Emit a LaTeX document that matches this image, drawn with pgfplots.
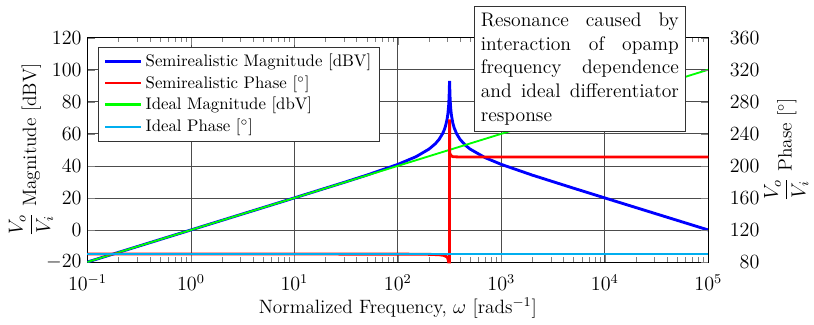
\documentclass[border=0pt]{standalone}
\usepackage{pgfplots}
\pgfplotsset{compat=1.18}
\definecolor{idealphase}{RGB}{0,174,239}
\pgfplotsset{every axis/.append style={
  tick label style={font=\fontsize{11.5}{14}\selectfont},
  label style={font=\fontsize{11.5}{14}\selectfont}}}
\begin{document}
\begin{tikzpicture}
\begin{axis}[
  scale only axis, width=370pt, height=133.7pt,
  xmode=log, xmin=0.1, xmax=1e5,
  ymin=-20, ymax=120, ytick={-20,0,...,120},
  xtick={0.1,1,10,100,1000,10000,100000},
  ytick pos=left,
  grid=major, grid style={black!70, thin},
  xlabel={Normalized Frequency, $\omega$ [rads$^{-1}$]},
  ylabel={$\displaystyle\frac{V_o}{V_i}$ Magnitude [dBV]},
  ylabel style={yshift=-11pt},
  xticklabel style={yshift=-4pt},
  xlabel style={yshift=2.5pt},
]
\addplot[blue, line width=1.7pt] coordinates {
(0.1,-20) (1,0) (10,20.01) (30,29.62) (50,34.20) (100,40.92) (150,45.73)
(200,50.46) (230,53.77) (250,56.48) (270,59.97) (280,62.25) (290,65.22)
(300,69.54) (305,72.81) (310,77.87) (313,83.27) (315,89.53) (316.23,93.0)
(317.5,89.38) (319,84.5) (322,78.68) (326,74.32) (330,71.4) (340,66.77)
(350,63.84) (370,60.02) (400,56.48) (450,52.85) (500,50.46) (700,45.08)
(1000,40.92) (2000,34.2) (5000,26.06) (10000,20.0) (100000,0)
};
\addplot[green, line width=1.1pt] coordinates {(0.1,-20) (100000,100)};
\end{axis}
\begin{axis}[
  scale only axis, width=370pt, height=133.7pt,
  xmode=log, xmin=0.1, xmax=1e5,
  axis x line=none,
  axis y line*=right,
  ymin=80, ymax=360, ytick={80,120,...,360},
  yticklabel style={anchor=east, xshift=34pt},
  ylabel={$\displaystyle\frac{V_o}{V_i}$ Phase [$^\circ$]},
  ylabel style={yshift=4pt},
  clip=false,
  legend style={at={(0.0176,0.96)}, anchor=north west, draw=black!80, fill=white,
    legend cell align=left},
  legend image code/.code={\draw[#1] (0cm,0cm) -- (0.75cm,0cm);},
]
\addlegendimage{blue, line width=1.7pt}
\addlegendentry{Semirealistic Magnitude [dBV]}
\addplot[red, line width=1.7pt] coordinates {
(0.1,90) (100,89.9) (200,89.6) (250,89.1) (280,88.2) (300,86.2) (305,84)
(310,80) (316.2,80) (316.23,258) (316.5,226) (318,216) (325,213) (340,211.5)
(400,211) (100000,211)
};
\addlegendentry{Semirealistic Phase [$^\circ$]}
\addlegendimage{green, line width=1.7pt}
\addlegendentry{Ideal Magnitude [dbV]}
\addplot[idealphase, line width=1.2pt] coordinates {(0.1,90) (100000,90)};
\addlegendentry{Ideal Phase [$^\circ$]}
\node[draw=black!80, fill=white, anchor=north west, text width=118pt,
  inner xsep=4pt, inner ysep=4pt,
  font=\fontsize{11.7}{14.1}\selectfont, align=left]
  at (rel axis cs:0.6224,1.142)
  {\leavevmode\hbox to 118pt{Resonance\hfill\ caused\hfill\ by}\\
   \leavevmode\hbox to 118pt{interaction\hfill\ of\hfill\ opamp}\\
   \leavevmode\hbox to 118pt{frequency\hfill\ dependence}\\
   \leavevmode\hbox to 118pt{and\hfill\ ideal\hfill\ differentiator}\\
   response};
\path (rel axis cs:-0.1408,-0.2434) rectangle (rel axis cs:1.1616,1.168);
\end{axis}
\end{tikzpicture}
\end{document}
